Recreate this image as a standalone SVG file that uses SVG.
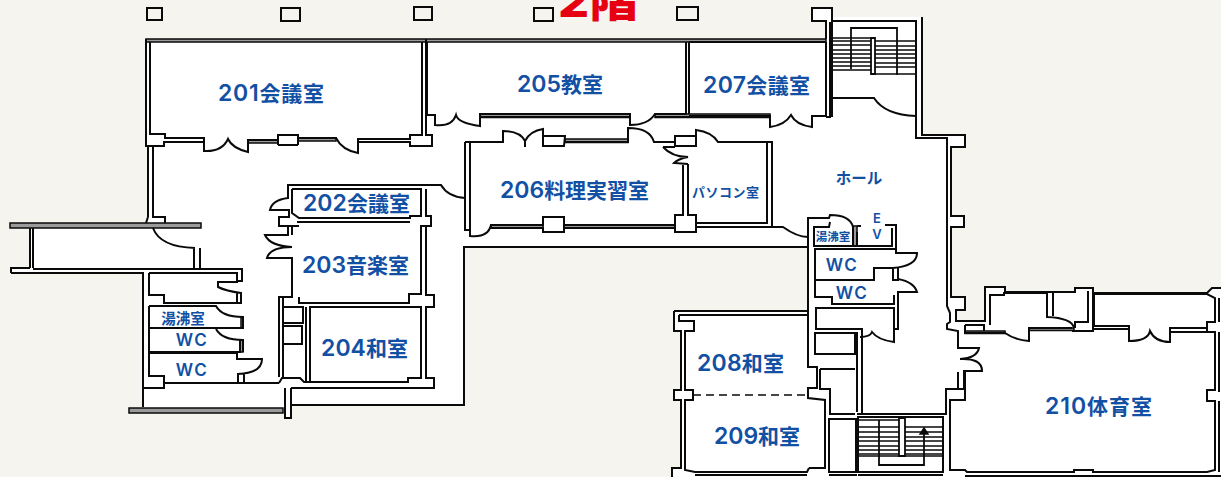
<svg xmlns="http://www.w3.org/2000/svg" width="1221" height="477" viewBox="0 0 1221 477">
<style>
.w{fill:none;stroke:#0a0a0a;stroke-width:2;stroke-linejoin:miter}
.t{fill:none;stroke:#0a0a0a;stroke-width:1.4}
.g{fill:#9a9a9a;stroke:#0a0a0a;stroke-width:1.5}
.l{fill:#1250a4;font-family:Inter,"Noto Sans CJK JP",sans-serif;font-weight:600;text-anchor:middle;dominant-baseline:central}
.d{font-size:23px}
</style>
<rect width="1221" height="477" fill="#f5f4ef"/>
<text x="598" y="17" fill="#e60012" font-family="Inter,'Noto Sans CJK JP',sans-serif" font-weight="800" font-size="44" text-anchor="middle" textLength="80" lengthAdjust="spacingAndGlyphs">2階</text>
<path fill="#fff" d="M146 39H826V21H812V8H832V17H922V135H965V147H951V216H964V227H951V297H965V310H956V321H985V287H1005V292H1075V288H1093V293H1207L1212 288H1221V477H672V468H681V400H674V390H681V331H674V311H808V247H464V405H291V418H285V413H129V407H143V273H11V268H30V228H10V223H146L148 217V146H146Z"/>
<g id="pillars" class="w" fill="#f5f4ef">
<path d="M147 8H162V20H147Z M281 8H300V21H281Z M414 7H432V20H414Z M534 8H553V21H534Z M677 7H698V20H677Z M826 39V21H812V8H832V17"/>
</g>
<g id="gray-walls">
<rect class="g" x="248" y="140" width="30" height="3"/><rect class="g" x="298" y="138" width="38" height="3"/>
<rect class="g" x="10" y="223" width="191" height="5"/><rect class="g" x="129" y="408" width="154" height="5"/>
<rect class="g" x="480" y="114" width="150" height="3.5"/><rect class="g" x="655" y="114" width="115" height="3.5"/>
<rect class="g" x="565" y="139" width="63" height="3.5"/><rect class="g" x="491" y="225" width="52" height="3"/><rect class="g" x="564" y="225" width="111" height="3"/>
<rect class="g" x="853" y="226" width="4" height="20"/><rect class="g" x="241" y="317" width="2" height="11"/><rect class="g" x="240" y="340" width="3" height="12"/>
<rect class="g" x="965" y="331" width="40" height="2.5"/><rect class="g" x="1029" y="328" width="45" height="2.5"/>
<rect class="g" x="146" y="39" width="680" height="3"/>
</g>
<g id="walls-west" class="w">
<path d="M146 39V146H164V141 M150 42V134H165V138H204V151Q222 152 228 139Q232 148 248 152V140H278V135H298V138H336Q342 150 358 153V139H410V135H422V42 M426 39V135H432V146H410V142H358 M164 142H204 M298 145H278 M278 135V145 M298 135V145"/>
<path d="M148 146V217 M153 146V217H165V223 M146 223L148 217"/>
<path d="M30 228V268 M33 228V268 M11 273V268H30 M11 273H143V407 M33 269H242V281H237 M153 228Q160 247 195 248 M194 248V269 M200 248V269"/>
<path d="M149 273H237V282H218V287Q226 291 241 293V304 M237 293V304 M149 273V295H164V303H241 M149 306V328H243V317H238 M149 306H216Q222 317 243 317 M149 329V352H240V340 M216 329Q222 340 243 340V352 M149 353H237V359H262Q262 373 238 374V383 M244 373V383 M149 353V376H164V388H143 M164 383H279"/>
<path d="M279 383L282 378H300L304 382H408V378H421V307H310V382 M306 307V382 M283 307H303V323H283Z M283 326H302V344H283Z M279 377V297H292V258H267Q270 247 292 247Q270 246 265 235H288V226H279V217H289V210H270Q272 200 288 198V185H441Q448 197 465 198 M292 189H421V216H410V218H299L292 213V189 M297 222H410 M299 226H289 M292 226V235 M283 297V378 M299 297V303H409V294H421V226H431V216H426V189 M426 226V295H434V307H426V378H434V388H408 M291 388H408 M285 388V418H291V405H464V247H808 M291 388V405"/>
</g>
<g id="walls-center" class="w">
<path d="M427 42V115H435V125Q452 127 456 115Q458 123 480 126V114H630V125Q648 125 655 114H686V42 M689 42V114 M689 42H826 M426 39V42 M655 117H770 M689 116H770V127Q785 125 791 115Q796 125 812 127V116H826V42 M480 117H630"/>
<path d="M465 142V230H470V236Q488 238 491 225H543V217H564V232H543V228H491 M470 142V230 M465 142H503V131Q520 131 525 141V147 M525 141Q530 131 543 129V146H564L565 136H543 M565 142H628V128Q650 128 654 142H675V136H696V146H675V142 M696 146V130Q712 132 718 142H772V227 M767 142V223H696 M663 147H675 M663 147Q672 157 688 157Q678 159 674 163L688 164 M683 164V215H675V232H696V215H688V164 M564 225H675 M564 228H675 M696 227H783Q797 237 808 237"/>
</g>
<g id="walls-hall" class="w">
<path d="M830 22V117H826 M832 17V117 M832 21H916V138H947V306L950 313V322L947 324V329L958 331V348H979Q977 358 960 359Q982 358 982 371H964V389H946V414H862V329H816V308H894V342Q878 340 872 332Q870 337 860 337 M832 98H874Q885 115 916 116 M922 17V135H965V147H951V216H964V227H951V297H965V310H956V321H985V287H1005V292H1075V288H1093V293H1207L1212 288H1221"/>
<path d="M808 247V218H829L830 215Q850 215 853 227V246 M857 226H861 M885 225H896V249 M892 228V246H814V227H829L830 222 M857 232V246 M808 247V367H817V388H808V398L825 400V468H809 M815 249H896V253H917Q917 266 893 268H874V280H815Z M893 268V280H898V268 M898 279Q914 282 917 292H898V329H894 M815 280V297H832V304H894V295 M815 333H855V354H815Z M857 332V412 M820 369H855 M820 369V389H830V414H855 M862 414H857"/>
<path d="M829 419H856V472H829Z M858 417H943V472H858Z M858 475H943 M829 475H857"/>
</g>
<g id="stairs" class="t">
<path d="M832 38H871M832 41H871M832 45H871M832 50H871M832 54H871M832 58H871M832 62H871M832 66H871M832 70H871M875 41H916M875 46H916M875 50H916M875 54H916M875 58H916M875 63H916M875 67H916M875 74H916"/>
<path d="M871 38H875V74H871Z M851 69V28H897V75" stroke-width="1.8"/>
<path d="M858 420H899M858 427H899M858 432H899M858 437H899M858 441H899M858 446H899M858 450H899M858 454H899M858 456H899M905 427H943M905 432H943M905 437H943M905 441H943M905 446H943M905 450H943M905 454H943M905 456H943"/>
<path d="M899 418H905V456H899Z M879 420V465H924V433" stroke-width="1.8"/>
<path d="M924 428L928 434H920Z" fill="#0a0a0a"/>
</g>
<g id="walls-east" class="w">
<path d="M674 311H808 M679 315H807 M679 315V321H694V331H685V390H693V400H685V470L695 472H807L809 468 M674 311V331H681V390H674V400H681V468H672V477 M695 475H807"/>
<path d="M693 395H808" stroke-dasharray="8 5" stroke-width="1.6"/>
<path d="M964 333H1005Q1015 340 1029 341V328H1072 M965 325H984V331 M965 325V332 M990 325V295H1004V293H1047V317Q1072 318 1074 328 M1053 292V316 M1075 328V322H1088V291 M1072 331H1093V293 M1094 294H1207L1215 298V322H1207V328H1170V342Q1155 342 1150 331Q1148 341 1129 341V326H1094V294 M1094 329H1128 M1170 332H1215V390H1207V401H1215V470L1207 472H1093V470H1074V472H967L965 470H950V400H965V372 M958 372V389 M1219 298V322 M1219 332V392 M1219 401V472 M965 476H1221 M1207 322V331"/>
</g>
<g id="labels">
<text class="l" x="271" y="93" font-size="21" textLength="106"><tspan class="d">201</tspan>会議室</text>
<text class="l" x="560" y="84" font-size="21" textLength="86"><tspan class="d">205</tspan>教室</text>
<text class="l" x="756.500" y="85" font-size="21" textLength="107"><tspan class="d">207</tspan>会議室</text>
<text class="l" x="574.500" y="190" font-size="21" textLength="149"><tspan class="d">206</tspan>料理実習室</text>
<text class="l" x="356.500" y="203" font-size="21" textLength="107"><tspan class="d">202</tspan>会議室</text>
<text class="l" x="355.500" y="265" font-size="21" textLength="107"><tspan class="d">203</tspan>音楽室</text>
<text class="l" x="364.500" y="348" font-size="21" textLength="87"><tspan class="d">204</tspan>和室</text>
<text class="l" x="740.500" y="363" font-size="21" textLength="87"><tspan class="d">208</tspan>和室</text>
<text class="l" x="757" y="436" font-size="21" textLength="86"><tspan class="d">209</tspan>和室</text>
<text class="l" x="1098.500" y="406" font-size="21" textLength="107"><tspan class="d">210</tspan>体育室</text>
<text class="l" x="859" y="178" font-size="15.500">ホール</text>
<text class="l" x="725.500" y="192" font-size="13" textLength="67">パソコン室</text>
<text class="l" x="877" y="217.500" font-size="13">E</text>
<text class="l" x="877" y="233.500" font-size="13">V</text>
<text class="l" x="833" y="237" font-size="11.500">湯沸室</text>
<text class="l" x="183" y="318" font-size="14.500">湯沸室</text>
<text class="l" x="842" y="265" font-size="17" letter-spacing="1.500">WC</text>
<text class="l" x="852" y="293" font-size="17" letter-spacing="1.500">WC</text>
<text class="l" x="192" y="340" font-size="17" letter-spacing="1.500">WC</text>
<text class="l" x="192" y="370" font-size="17" letter-spacing="1.500">WC</text>
</g>
</svg>
